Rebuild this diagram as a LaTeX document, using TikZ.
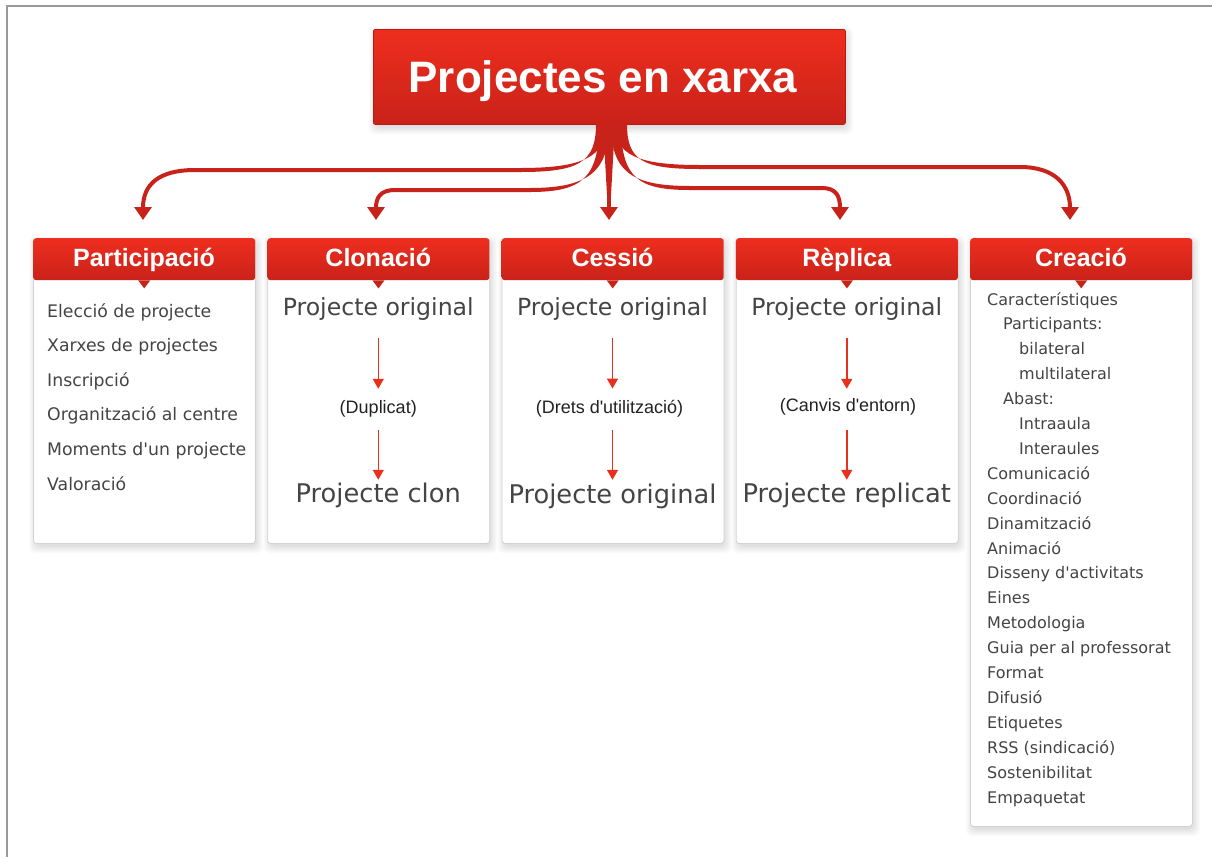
\documentclass[tikz,border=0pt]{standalone}
\usepackage{fontspec}
\setmainfont{DejaVu Sans}
\newfontfamily\arial{Liberation Sans}
\usetikzlibrary{arrows.meta,calc}
\definecolor{redtop}{HTML}{EE2E1E}
\definecolor{redbot}{HTML}{C92219}
\definecolor{conn}{HTML}{C8231A}
\definecolor{smallarrow}{HTML}{E8301C}
\definecolor{bodytext}{HTML}{444444}
\definecolor{midtext}{HTML}{222222}
\definecolor{framec}{HTML}{9A9A9E}
\definecolor{boxline}{HTML}{D2D2D2}
\definecolor{titleborder}{HTML}{B51B13}
\newcommand\q{\textquotesingle}
\newcommand\softshadow[4]{%
  \foreach \s in {1,...,8}{%
    \fill[black,opacity=0.014,rounded corners=5pt] (#1+4-\s,#2+6-\s) rectangle (#3+\s,#4+2+\s);}}
\begin{document}
\begin{tikzpicture}[x=1pt,y=-1pt,
  hdr/.style={shade, top color=redtop, bottom color=redbot, rounded corners=3pt,
    minimum width=222pt, minimum height=42pt, inner sep=0pt, anchor=north west},
  card/.style={fill=white, draw=boxline, line width=0.8pt, rounded corners=3pt,
    minimum width=222pt, inner sep=0pt, anchor=north west},
  titlebox/.style={shade, top color=redtop, bottom color=redbot, draw=titleborder,
    line width=0.8pt, rounded corners=2pt, minimum width=472pt, minimum height=95pt,
    inner sep=0pt, anchor=north west},
  titletext/.style={font=\arial\bfseries\fontsize{44}{50}\selectfont, text=white, anchor=base, inner sep=0pt},
  hdrtext/.style={font=\arial\bfseries\fontsize{25}{30}\selectfont, text=white, anchor=base, inner sep=0pt},
  item/.style={font=\fontsize{17.3}{20}\selectfont, text=bodytext, anchor=base west, inner sep=0pt},
  citem/.style={font=\fontsize{16}{19}\selectfont, text=bodytext, anchor=base west, inner sep=0pt},
  big/.style={font=\fontsize{23.6}{28}\selectfont, text=bodytext, anchor=base, inner sep=0pt},
  bigb/.style={font=\fontsize{25.7}{30}\selectfont, text=bodytext, anchor=base, inner sep=0pt},
  mid/.style={font=\arial\fontsize{18}{22}\selectfont, text=midtext, anchor=base, inner sep=0pt},
  flow/.style={draw=smallarrow, line width=1.5pt, -{Triangle[length=10pt,width=11pt]}},
  connline/.style={draw=conn, line width=4pt, -{Triangle[length=13pt,width=17pt]}},
  taper/.style={fill=conn},
]
\useasboundingbox (0,0) rectangle (1212,857);
\fill[white] (0,0) rectangle (1212,857);
\draw[framec, line width=2pt] (7,857) -- (7,6) -- (1212,6);

% shadows
\softshadow{373}{29}{845}{124}
\softshadow{33}{238}{255}{543}
\softshadow{267.25}{238}{489.25}{543}
\softshadow{501.5}{238}{723.5}{543}
\softshadow{735.75}{238}{957.75}{543}
\softshadow{970}{238}{1192}{826}

% title
\node[titlebox] (title) at (373,29) {};
\node[titletext] (tt) at (603,92) {Projectes en xarxa};

% cards
\node[card, minimum height=305pt] (k1) at (33,238) {};
\node[card, minimum height=305pt] (k2) at (267.25,238) {};
\node[card, minimum height=305pt] (k3) at (501.5,238) {};
\node[card, minimum height=305pt] (k4) at (735.75,238) {};
\node[card, minimum height=588pt] (k5) at (970,238) {};

\node[hdr] (h1) at (33,238) {};
\node[hdr] (h2) at (267.25,238) {};
\node[hdr] (h3) at (501.5,238) {};
\node[hdr] (h4) at (735.75,238) {};
\node[hdr] (h5) at (970,238) {};
\foreach \h in {h1,h2,h3,h4,h5}{
  \fill[redbot] ($(\h.south)+(-6,0)$) -- ($(\h.south)+(6,0)$) -- ($(\h.south)+(0,8)$) -- cycle;}

\node[hdrtext] (ht1) at (144,266) {Participació};
\node[hdrtext] (ht2) at (378.25,266) {Clonació};
\node[hdrtext] (ht3) at (612.5,266) {Cessió};
\node[hdrtext] (ht4) at (846.75,266) {Rèplica};
\node[hdrtext] (ht5) at (1081,266) {Creació};

% connectors
\coordinate (a1) at (143,220);
\coordinate (a2) at (376,220);
\coordinate (a3) at (609,220);
\coordinate (a4) at (840,220);
\coordinate (a5) at (1070,220);
\fill[taper] (596,124) .. controls (596,163) and (578,172) .. (520,172) -- (520,168) .. controls (583,168) and (606,157) .. (606,124) -- cycle;
\draw[connline] (521,170) -- (195,170) .. controls (158,170) and (143,185) .. (a1);
\fill[taper] (599,124) .. controls (599,178) and (582,192) .. (530,192) -- (530,188) .. controls (588,188) and (609,172) .. (609,124) -- cycle;
\draw[connline] (531,190) -- (395,190) .. controls (380,190) and (376,198) .. (a2);
\fill[taper] (603,124) -- (615,124) -- (611,195) -- (607,195) -- cycle;
\draw[connline] (609,180) -- (a3);
\fill[taper] (621,124) .. controls (621,178) and (638,190) .. (690,190) -- (690,186) .. controls (632,186) and (611,172) .. (611,124) -- cycle;
\draw[connline] (689,188) -- (822,188) .. controls (836,188) and (840,196) .. (a4);
\fill[taper] (627,124) .. controls (627,161) and (643,169) .. (700,169) -- (700,165) .. controls (637,165) and (615,155) .. (615,124) -- cycle;
\draw[connline] (699,167) -- (1020,167) .. controls (1055,167) and (1070,185) .. (a5);

% Participació
\node[item] (p1) at (47,317) {Elecció de projecte};
\node[item] (p2) at (47,351.6) {Xarxes de projectes};
\node[item] (p3) at (47,386.2) {Inscripció};
\node[item] (p4) at (47,420.8) {Organització al centre};
\node[item] (p5) at (47,455.4) {Moments d\q un projecte};
\node[item] (p6) at (47,490) {Valoració};

% Clonació
\node[big] (c1) at (378.25,315) {Projecte original};
\node[mid] (c2) at (378.25,413) {(Duplicat)};
\node[bigb] (c3) at (378.25,502) {Projecte clon};
\draw[flow, shorten <=18pt, shorten >=11pt] (c1) -- (c2);
\draw[flow, shorten <=13pt, shorten >=2.5pt] (c2) -- (c3);

% Cessió
\node[big] (s1) at (612.5,315) {Projecte original};
\node[mid] (s2) at (609.5,413) {(Drets d\q utilització)};
\node[bigb] (s3) at (612.5,503) {Projecte original};
\draw[flow, shorten <=18pt, shorten >=11pt] (s1.south) -- (s1.south |- s2.north);
\draw[flow, shorten <=13pt, shorten >=3.5pt] (s1.south |- s2.south) -- (s3.north);

% Rèplica
\node[big] (r1) at (846.75,315) {Projecte original};
\node[mid] (r2) at (848,411) {(Canvis d\q entorn)};
\node[bigb] (r3) at (846.75,502) {Projecte replicat};
\draw[flow, shorten <=18pt, shorten >=9pt] (r1.south) -- (r1.south |- r2.north);
\draw[flow, shorten <=15pt, shorten >=2.5pt] (r1.south |- r2.south) -- (r3.north);

% Creació
\foreach \t/\ind [count=\i from 0] in {%
  Característiques/0, Participants:/16, bilateral/32, multilateral/32, Abast:/16,
  Intraaula/32, Interaules/32, Comunicació/0, Coordinació/0, Dinamització/0,
  Animació/0, Disseny d\q activitats/0, Eines/0, Metodologia/0,
  Guia per al professorat/0, Format/0, Difusió/0, Etiquetes/0,
  RSS (sindicació)/0, Sostenibilitat/0, Empaquetat/0}{
  \node[citem] (e\i) at (987+\ind,305+24.9*\i) {\t};}
\end{tikzpicture}
\end{document}
